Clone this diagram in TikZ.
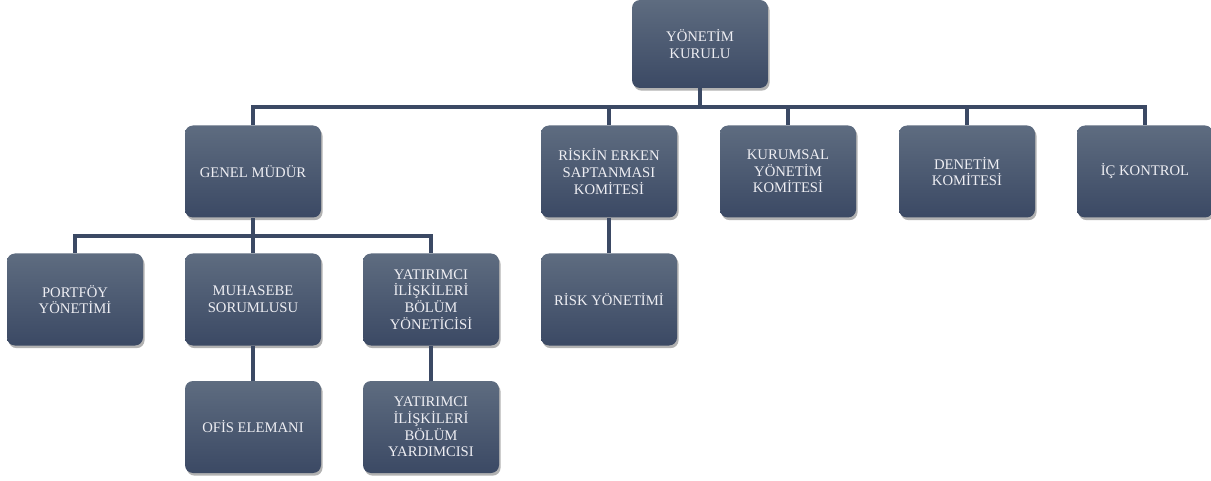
\documentclass[tikz,border=0pt]{standalone}
\usepackage{fontspec}
\setmainfont{Liberation Serif}
\usetikzlibrary{shadows}

\definecolor{boxtop}{HTML}{5E6C80}
\definecolor{boxbot}{HTML}{3B4964}
\definecolor{linecol}{HTML}{3B4964}
\definecolor{textcol}{HTML}{EEEEF3}

\tikzset{
  unit/.style={rectangle, rounded corners=6pt, top color=boxtop, bottom color=boxbot,
    draw=none, text=textcol, align=center, minimum width=102pt, minimum height=69pt,
    font=\fontsize{11}{12.5}\selectfont,
    drop shadow={shadow xshift=1.2pt, shadow yshift=-2pt, opacity=0.3, fill=black}},
  link/.style={draw=linecol, line width=2.3pt}
}

\begin{document}
\begin{tikzpicture}[x=0.75pt,y=-0.75pt]

    % Fix the canvas to the size of the chart
    \useasboundingbox (0,0) rectangle (1211,481);

    % Top of the chart
    \node[unit, minimum height=66pt] (kurul) at (700,44) {YÖNETİM\\KURULU};

    % Second row: units reporting to the board
    \node[unit] (genel) at (253,171.5) {GENEL MÜDÜR};
    \node[unit] (riskkom) at (609,171.5) {RİSKİN ERKEN\\SAPTANMASI\\KOMİTESİ};
    \node[unit] (kurumsal) at (788,171.5) {KURUMSAL\\YÖNETİM\\KOMİTESİ};
    \node[unit] (denetim) at (967,171.5) {DENETİM\\KOMİTESİ};
    \node[unit] (ickontrol) at (1145,171.5) {İÇ KONTROL};

    % Third row
    \node[unit] (portfoy) at (75,299.5) {PORTFÖY\\YÖNETİMİ};
    \node[unit] (muhasebe) at (253,299.5) {MUHASEBE\\SORUMLUSU};
    \node[unit] (yatirimci) at (431,299.5) {YATIRIMCI\\İLİŞKİLERİ\\BÖLÜM\\YÖNETİCİSİ};
    \node[unit] (riskyon) at (609,299.5) {RİSK YÖNETİMİ};

    % Fourth row
    \node[unit] (ofis) at (253,427) {OFİS ELEMANI};
    \node[unit] (yardimci) at (431,427) {YATIRIMCI\\İLİŞKİLERİ\\BÖLÜM\\YARDIMCISI};

    % Junctions of the horizontal bars
    \coordinate (barA) at (700,107);
    \coordinate (barB) at (253,236);

    % Connectors from the board
    \draw[link] (kurul.south) -- (barA);
    \foreach \n in {genel,riskkom,kurumsal,denetim,ickontrol}
        \draw[link] (barA) -| (\n.north);

    % Connectors from the general manager
    \draw[link] (genel.south) -- (barB);
    \foreach \n in {portfoy,muhasebe,yatirimci}
        \draw[link] (barB) -| (\n.north);

    % Single links further down
    \draw[link] (riskkom.south) -- (riskyon.north);
    \draw[link] (muhasebe.south) -- (ofis.north);
    \draw[link] (yatirimci.south) -- (yardimci.north);

\end{tikzpicture}
\end{document}
